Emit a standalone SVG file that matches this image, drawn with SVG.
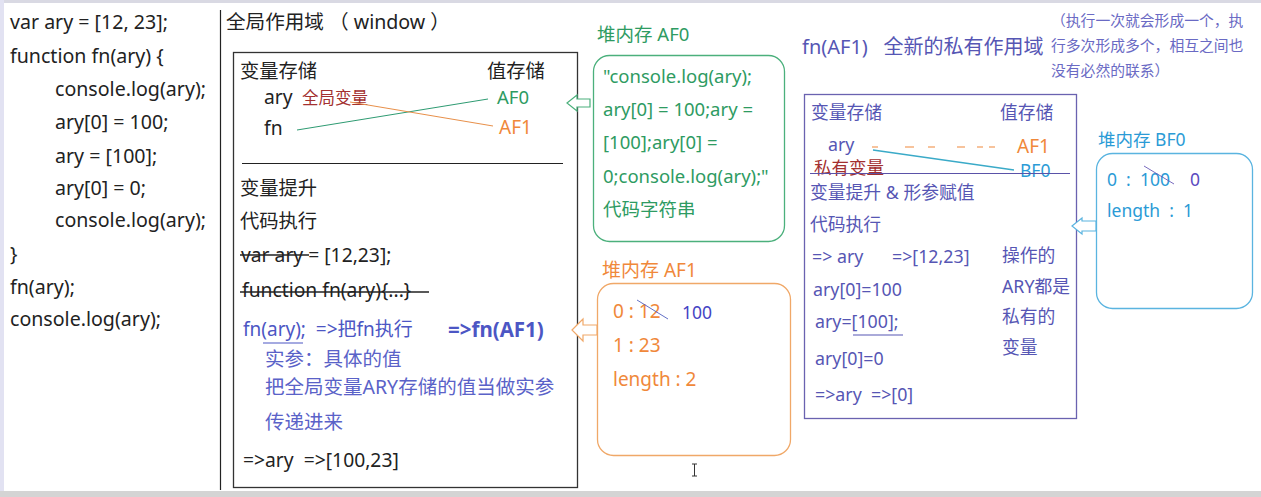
<svg xmlns="http://www.w3.org/2000/svg" width="1261" height="497" viewBox="0 0 1261 497" xml:space="preserve">
<style>
text{font-family:"Noto Sans","Noto Sans CJK SC",sans-serif;white-space:pre;}
.k{fill:#222;font-size:19.6px;}
.m{fill:#222;font-size:19.3px;}
.g{fill:#2e9b62;font-size:18.5px;}
.o{fill:#f0883a;font-size:19px;}
.p{fill:#5656b4;font-size:17.8px;}
.b{fill:#2b9bd6;font-size:17.5px;}
.r{fill:#a33030;}
.box{fill:none;stroke-width:1.3;}
</style>
<rect x="0" y="0" width="1261" height="497" fill="#fff"/>
<rect x="0" y="0" width="1261" height="3" fill="#d9d9e3"/>
<rect x="0" y="0" width="4" height="492" fill="#e2e2f2"/>
<rect x="0" y="491" width="1261" height="6" fill="#d4d4d4"/>
<line x1="220.5" y1="10" x2="220.5" y2="490" stroke="#222" stroke-width="1.2"/>

<g id="code">
<text class="k" x="10" y="29">var ary = [12, 23];</text>
<text class="k" x="10" y="63">function fn(ary) {</text>
<text class="k" x="55" y="96">console.log(ary);</text>
<text class="k" x="55" y="129">ary[0] = 100;</text>
<text class="k" x="55" y="163">ary = [100];</text>
<text class="k" x="55" y="195">ary[0] = 0;</text>
<text class="k" x="55" y="227">console.log(ary);</text>
<text class="k" x="10" y="261">}</text>
<text class="k" x="10" y="294">fn(ary);</text>
<text class="k" x="10" y="326">console.log(ary);</text>
</g>

<g id="global-scope">
<text class="k" x="226" y="29">全局作用域 （ window ）</text>
<rect class="box" x="233.5" y="52.5" width="344" height="435" stroke="#333"/>
<text class="m" x="240" y="78">变量存储</text>
<text class="m" x="487" y="78">值存储</text>
<text class="m" x="264" y="104">ary</text>
<text class="r" x="302" y="104" font-size="16.5">全局变量</text>
<text class="m" x="264" y="135">fn</text>
<text class="g" x="497" y="104">AF0</text>
<text class="o" x="499" y="134">AF1</text>
<line x1="242" y1="163.5" x2="563" y2="163.5" stroke="#222" stroke-width="1.2"/>
<text class="m" x="240" y="195">变量提升</text>
<text class="m" x="240" y="228">代码执行</text>
<text class="m" x="241" y="262">var ary = [12,23];</text>
<line x1="240" y1="255" x2="309" y2="255" stroke="#222" stroke-width="1.5"/>
<text class="m" x="242" y="297">function fn(ary){...}</text>
<line x1="240" y1="292" x2="429" y2="292" stroke="#222" stroke-width="1.5"/>
<text x="243" y="336" fill="#4c56c4" font-size="19">fn(ary);  =&gt;把fn执行</text>
<line x1="263" y1="343" x2="303" y2="343" stroke="#4c56c4" stroke-width="1.2"/>
<text x="448" y="337" fill="#4c56c4" font-size="20.5" font-weight="bold">=&gt;fn(AF1)</text>
<text x="265" y="366" fill="#5a62c8" font-size="19.5">实参：具体的值</text>
<text x="265" y="394" fill="#5a62c8" font-size="19.5">把全局变量ARY存储的值当做实参</text>
<text x="265" y="429" fill="#5a62c8" font-size="19.5">传递进来</text>
<text class="m" x="243" y="467" font-size="17.5">=&gt;ary  =&gt;[100,23]</text>
</g>

<g id="heap-af0">
<text class="g" x="597" y="41">堆内存 AF0</text>
<rect class="box" x="593.5" y="55.5" width="191" height="186" rx="16" stroke="#4bb07c"/>
<text class="g" x="603" y="83">"console.log(ary);</text>
<text class="g" x="603" y="116">ary[0] = 100;ary =</text>
<text class="g" x="603" y="149">[100];ary[0] =</text>
<text class="g" x="603" y="183">0;console.log(ary);"</text>
<text class="g" x="603" y="216">代码字符串</text>
</g>

<g id="heap-af1">
<text class="o" x="602" y="277">堆内存 AF1</text>
<rect class="box" x="597.5" y="283.5" width="193" height="172" rx="16" stroke="#f0a868"/>
<text class="o" x="613" y="318">0 : 12</text>
<line x1="637" y1="300" x2="668" y2="319" stroke="#5060c0" stroke-width="0.9"/>
<text x="682" y="319" fill="#4444c4" font-size="17.5">100</text>
<text class="o" x="613" y="352">1 : 23</text>
<text class="o" x="613" y="386">length : 2</text>
</g>

<g id="private-scope">
<text x="802" y="54" fill="#5656b4" font-size="20">fn(AF1)   全新的私有作用域</text>
<text x="1051" y="26" fill="#6a6ac4" font-size="14.8">（执行一次就会形成一个，执</text>
<text x="1051" y="51" fill="#6a6ac4" font-size="14.8">行多次形成多个，相互之间也</text>
<text x="1051" y="76" fill="#6a6ac4" font-size="14.8">没有必然的联系）</text>
<rect class="box" x="804.5" y="94.5" width="272" height="324" stroke="#6a62b0"/>
<text class="p" x="811" y="119">变量存储</text>
<text class="p" x="1000" y="119">值存储</text>
<text class="p" x="828" y="151">ary</text>
<text class="o" x="1017" y="153" font-size="17.5">AF1</text>
<text class="r" x="814" y="174" font-size="17.5">私有变量</text>
<text class="b" x="1020" y="177">BF0</text>
<line x1="810" y1="173.5" x2="1070" y2="173.5" stroke="#5a52a8" stroke-width="1.2"/>
<text class="p" x="810" y="199">变量提升 &amp; 形参赋值</text>
<text class="p" x="810" y="231">代码执行</text>
<text class="p" x="812" y="263">=&gt; ary</text>
<text class="p" x="892" y="263">=&gt;[12,23]</text>
<text class="p" x="813" y="296">ary[0]=100</text>
<text class="p" x="815" y="328">ary=[100];</text>
<line x1="853" y1="335" x2="903" y2="335" stroke="#5656b4" stroke-width="1.2"/>
<text class="p" x="815" y="365">ary[0]=0</text>
<text class="p" x="815" y="401">=&gt;ary  =&gt;[0]</text>
<text class="p" x="1002" y="262">操作的</text>
<text class="p" x="1002" y="293">ARY都是</text>
<text class="p" x="1002" y="323">私有的</text>
<text class="p" x="1002" y="354">变量</text>
</g>

<g id="heap-bf0">
<text class="b" x="1098" y="146">堆内存 BF0</text>
<rect class="box" x="1096.5" y="153.5" width="156" height="155" rx="16" stroke="#5ab4e0"/>
<text class="b" x="1107" y="186">0  :  100</text>
<line x1="1144" y1="166" x2="1174" y2="184" stroke="#6a5ab8" stroke-width="0.9"/>
<text x="1190" y="186" fill="#5a4ac0" font-size="17.5">0</text>
<text class="b" x="1107" y="217">length  :  1</text>
</g>

<g id="connectors" fill="none">
<line x1="297" y1="130" x2="488" y2="99" stroke="#2e9b72" stroke-width="1"/>
<line x1="350" y1="102" x2="493" y2="126" stroke="#e8904a" stroke-width="1"/>
<path d="M567,103 L577,95 L577,99 L590,99 L590,107 L577,107 L577,111 Z" stroke="#4bb07c" stroke-width="1.2" fill="#fff"/>
<path d="M572,330 L583,319 L583,325 L597,325 L597,335 L583,335 L583,341 Z" stroke="#f0a868" stroke-width="1.2" fill="#fff"/>
<path d="M1072,226 L1082,218 L1082,221 L1096,221 L1096,231 L1082,231 L1082,234 Z" stroke="#5ab4e0" stroke-width="1.2" fill="#fff"/>
<line x1="872" y1="147" x2="1012" y2="147" stroke="#f0883a" stroke-width="1.2" stroke-dasharray="6,27,9,14,7,22,8,12,6,6"/>
<line x1="873" y1="150" x2="1014" y2="170" stroke="#3aaac8" stroke-width="1.3"/>
</g>

<g id="cursor" stroke="#333" stroke-width="1">
<line x1="694.5" y1="464" x2="694.5" y2="476"/>
<line x1="692" y1="464" x2="697" y2="464"/>
<line x1="692" y1="476" x2="697" y2="476"/>
</g>
</svg>
